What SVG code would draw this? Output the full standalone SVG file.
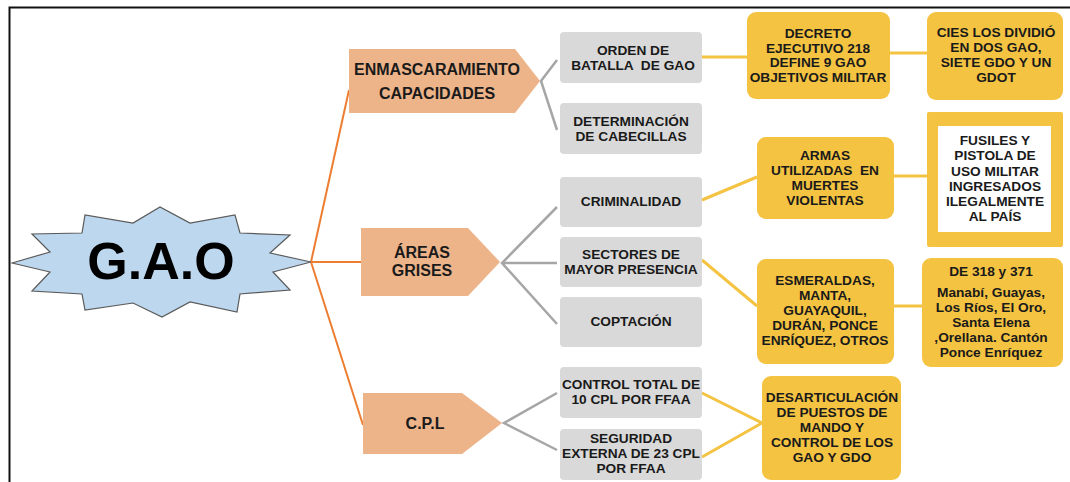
<svg xmlns="http://www.w3.org/2000/svg" width="1070" height="482" viewBox="0 0 1070 482">
<style>
text{font-family:"Liberation Sans",Arial,sans-serif;font-weight:bold;fill:#1a1a1a;text-anchor:middle}
.t{font-size:13.7px}
.o{font-size:16px}
.gray{fill:#D9D9D9}
.yel{fill:#F4C342}
.peach{fill:#EDB48A}
.lo{stroke:#ED7D31;stroke-width:2;fill:none}
.lg{stroke:#A6A6A6;stroke-width:2.5;fill:none}
.ly{stroke:#F4C342;stroke-width:3;fill:none}
</style>
<rect width="1070" height="482" fill="#fff"/>
<path d="M9.5 482 V7.5 H1070" fill="none" stroke="#111" stroke-width="2"/>
<g id="connectors">
<path class="lo" d="M311 262 L349 90 M311 262 H361 M311 262 L363 425"/>
<path class="lg" d="M557 60 L541 81 L557 130"/>
<path class="lg" d="M557 207 L502 263 L557 324 M502 263 H557"/>
<path class="lg" d="M557 393 L504 423 L557 450"/>
<path class="ly" d="M702 57 H747 M890 53 H927 M702 200 L757 177 M894 176 H927 M702 260 L757 306 M894 306 H922 M702 393 L762 423 L702 457"/>
</g>
<g id="gao">
<polygon points="12,263 50,252 32,234 82,233 85,215 133,223 160,207 190,223 235,215 240,233 290,235 270,253 311,262 273,272 290,290 240,294 237,312 190,302 162,317 133,303 85,310 82,294 32,291 50,272" fill="#BDD7EE" stroke="#5a5a5a" stroke-width="1.2"/>
<text x="161" y="279" style="font-size:52px;fill:#000">G.A.O</text>
</g>
<g id="enmascaramiento">
<polygon class="peach" points="349,49 515,49 540,81 515,113 349,113"/>
<text class="o" x="437" y="75">ENMASCARAMIENTO</text>
<text class="o" x="437" y="99">CAPACIDADES</text>
</g>
<g id="areas">
<polygon class="peach" points="361,228 468,228 500,262 468,296 361,296"/>
<text class="o" x="422" y="258">ÁREAS</text>
<text class="o" x="422" y="276">GRISES</text>
</g>
<g id="cpl">
<polygon class="peach" points="363,393 462,393 502,423 462,454 363,454"/>
<text class="o" x="425" y="429">C.P.L</text>
</g>
<g id="orden">
<rect class="gray" x="560" y="32" width="142" height="51" rx="4"/>
<text class="t" x="633" y="55">ORDEN DE</text>
<text class="t" x="633" y="70" xml:space="preserve">BATALLA  DE GAO</text>
</g>
<g id="determinacion">
<rect class="gray" x="560" y="103" width="142" height="51" rx="4"/>
<text class="t" x="631" y="126">DETERMINACIÓN</text>
<text class="t" x="631" y="141">DE CABECILLAS</text>
</g>
<g id="criminalidad">
<rect class="gray" x="560" y="177" width="142" height="50" rx="4"/>
<text class="t" x="631" y="206">CRIMINALIDAD</text>
</g>
<g id="sectores">
<rect class="gray" x="560" y="237" width="142" height="50" rx="4"/>
<text class="t" x="631" y="259">SECTORES DE</text>
<text class="t" x="631" y="274">MAYOR PRESENCIA</text>
</g>
<g id="coptacion">
<rect class="gray" x="560" y="297" width="142" height="50" rx="4"/>
<text class="t" x="631" y="326">COPTACIÓN</text>
</g>
<g id="control">
<rect class="gray" x="560" y="367" width="142" height="51" rx="4"/>
<text class="t" x="631" y="389">CONTROL TOTAL DE</text>
<text class="t" x="631" y="404">10 CPL POR FFAA</text>
</g>
<g id="seguridad">
<rect class="gray" x="560" y="429" width="142" height="51" rx="4"/>
<text class="t" x="631" y="443">SEGURIDAD</text>
<text class="t" x="631" y="458">EXTERNA DE 23 CPL</text>
<text class="t" x="631" y="473">POR FFAA</text>
</g>
<g id="decreto">
<rect class="yel" x="747" y="12" width="143" height="87" rx="9"/>
<text class="t" x="818" y="38">DECRETO</text>
<text class="t" x="818" y="53">EJECUTIVO 218</text>
<text class="t" x="818" y="67">DEFINE 9 GAO</text>
<text class="t" x="818" y="82">OBJETIVOS MILITAR</text>
</g>
<g id="cies">
<rect class="yel" x="927" y="12" width="136" height="88" rx="9"/>
<text class="t" x="996" y="37">CIES LOS DIVIDIÓ</text>
<text class="t" x="996" y="52">EN DOS GAO,</text>
<text class="t" x="996" y="67">SIETE GDO Y UN</text>
<text class="t" x="996" y="82">GDOT</text>
</g>
<g id="armas">
<rect class="yel" x="757" y="137" width="137" height="82" rx="9"/>
<text class="t" x="825" y="160">ARMAS</text>
<text class="t" x="825" y="175" xml:space="preserve">UTILIZADAS  EN</text>
<text class="t" x="825" y="190">MUERTES</text>
<text class="t" x="825" y="205">VIOLENTAS</text>
</g>
<g id="fusiles">
<rect class="yel" x="927" y="112" width="136" height="135" rx="2"/>
<rect x="938" y="126" width="113" height="106" fill="#fff"/>
<text class="t" x="995" y="145">FUSILES Y</text>
<text class="t" x="995" y="160">PISTOLA DE</text>
<text class="t" x="995" y="176">USO MILITAR</text>
<text class="t" x="995" y="191">INGRESADOS</text>
<text class="t" x="995" y="206">ILEGALMENTE</text>
<text class="t" x="995" y="221">AL PAÍS</text>
</g>
<g id="esmeraldas">
<rect class="yel" x="757" y="259" width="137" height="105" rx="9"/>
<text class="t" x="825" y="285">ESMERALDAS,</text>
<text class="t" x="825" y="300">MANTA,</text>
<text class="t" x="825" y="315">GUAYAQUIL,</text>
<text class="t" x="825" y="330">DURÁN, PONCE</text>
<text class="t" x="825" y="345">ENRÍQUEZ, OTROS</text>
</g>
<g id="de318">
<rect class="yel" x="922" y="258" width="141" height="109" rx="9"/>
<text class="t" x="991" y="276">DE 318 y 371</text>
<text class="t" x="991" y="297">Manabí, Guayas,</text>
<text class="t" x="991" y="312">Los Ríos, El Oro,</text>
<text class="t" x="991" y="327">Santa Elena</text>
<text class="t" x="991" y="342">,Orellana. Cantón</text>
<text class="t" x="991" y="357">Ponce Enríquez</text>
</g>
<g id="desarticulacion">
<rect class="yel" x="762" y="376" width="139" height="104" rx="9"/>
<text class="t" x="832" y="402">DESARTICULACIÓN</text>
<text class="t" x="832" y="417">DE PUESTOS DE</text>
<text class="t" x="832" y="432">MANDO Y</text>
<text class="t" x="832" y="447">CONTROL DE LOS</text>
<text class="t" x="832" y="462">GAO Y GDO</text>
</g>
</svg>
